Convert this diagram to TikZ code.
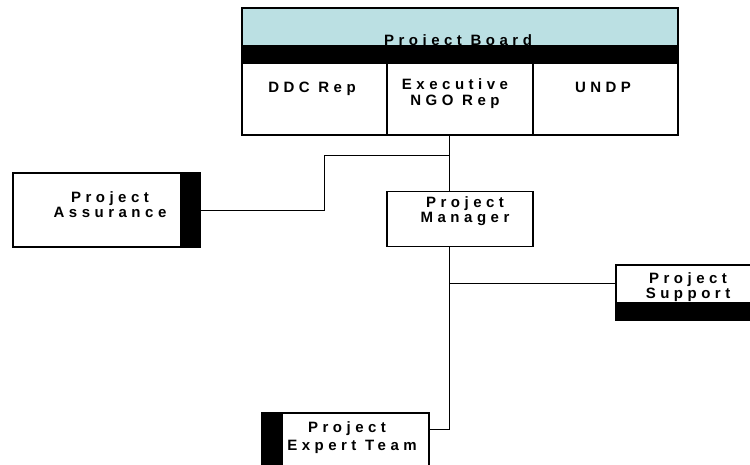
\documentclass[tikz,border=0pt]{standalone}
\usepackage{fontspec}
\usetikzlibrary{calc}
\newfontfamily\lbfont{Liberation Sans}[LetterSpace=30]
\definecolor{hdrblue}{RGB}{187,224,227}
\tikzset{
  box/.style={draw=black, line width=1.5pt, fill=white, inner sep=0pt, outer sep=0pt},
  band/.style={fill=black},
  lbl/.style={font=\lbfont\bfseries\fontsize{15}{17}\selectfont, anchor=base, inner sep=0pt},
  conn/.style={draw=black, line width=0.9pt}
}
\begin{document}
\begin{tikzpicture}[x=1pt,y=-1pt]
\useasboundingbox (0,0) rectangle (750,464);
% Project Board
\fill[hdrblue] (242,8) rectangle (678,45);
\fill[band] (242,45) rectangle (678,63);
\node[box, minimum width=145pt, minimum height=72pt] (ddc) at (314.5,99) {};
\node[box, minimum width=146pt, minimum height=72pt] (exe) at (460,99) {};
\node[box, minimum width=145pt, minimum height=72pt] (undp) at (605.5,99) {};
\node[draw=black, line width=1.5pt, inner sep=0pt, outer sep=0pt, minimum width=436pt, minimum height=127pt] (board) at (460,71.5) {};
\node[lbl] (boardt) at (458,45) {Project Board};
\node[lbl] (ddct) at (312,92) {DDC Rep};
\node[lbl] (exet1) at (455,89) {Executive};
\node[lbl] (exet2) at (455,105) {NGO Rep};
\node[lbl] (undpt) at (603,92) {UNDP};
% Project Assurance
\node[box, minimum width=187pt, minimum height=74pt] (asr) at (106.5,210) {};
\fill[band] (180,173) rectangle (200,247);
\draw[line width=1.5pt] (asr.north west) rectangle (asr.south east);
\node[lbl] (asrt1) at (110,202) {Project};
\node[lbl] (asrt2) at (110,217) {Assurance};
% Project Manager
\node[box, minimum width=146pt, minimum height=55pt] (pm) at (460,219) {};
\node[lbl] (pmt1) at (465,207) {Project};
\node[lbl] (pmt2) at (465,222) {Manager};
% Project Support
\node[box, minimum width=140pt, minimum height=55pt] (sup) at (686,292.5) {};
\node[lbl] (supt1) at (688,283) {Project};
\node[lbl] (supt2) at (688,298) {Support};
\fill[band] (616,302) rectangle (756,320);
% Project Expert Team
\node[box, minimum width=167pt, minimum height=70pt] (exp) at (345.5,448) {};
\fill[band] (262,413) rectangle (283,483);
\draw[line width=1.5pt] (exp.north west) rectangle (exp.south east);
\node[lbl] (expt1) at (347,432) {Project};
\node[lbl] (expt2) at (352,450) {Expert Team};
% connectors
\coordinate (t0) at (449,135);
\coordinate (j1) at (449,155);
\coordinate (k1) at (324,210);
\coordinate (t1) at (449,247);
\draw[conn] (t0) -- (t0 |- pm.north);
\draw[conn] (j1) -| (k1) -- (asr.east);
\draw[conn] (t1) |- ($(exp.north east)+(0,16)$);
\draw[conn] (t1 |- 0,283) -- ($(sup.north west)+(0,18)$);
\end{tikzpicture}
\end{document}
